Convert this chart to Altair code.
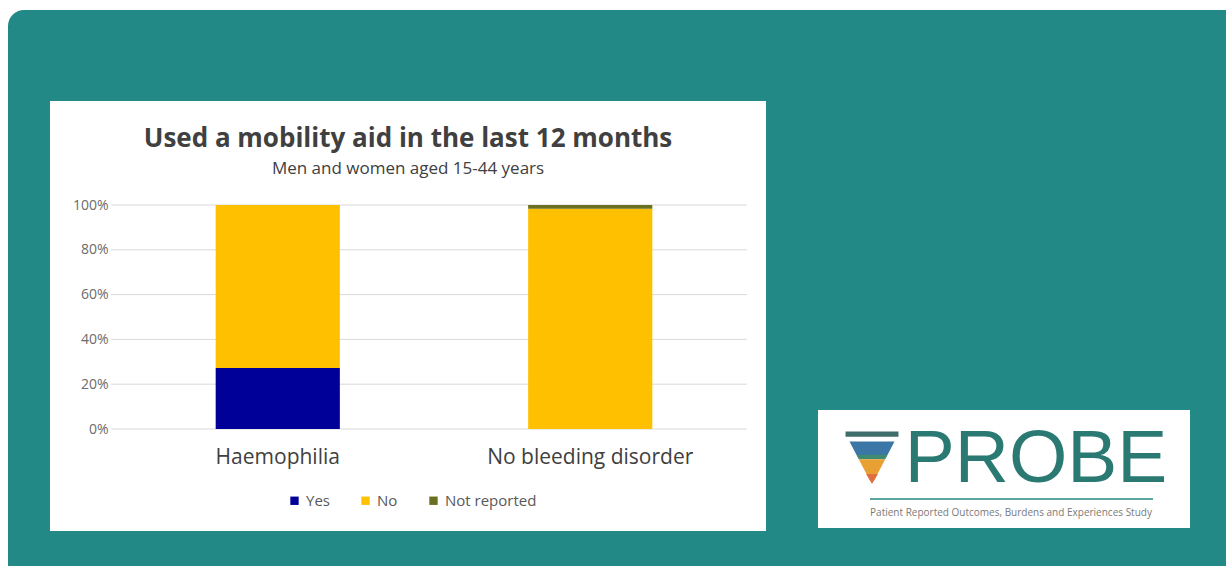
import altair as alt
import pandas as pd

# ---- data ----
groups = ["Haemophilia", "Haemophilia", "Haemophilia",
          "No bleeding disorder", "No bleeding disorder", "No bleeding disorder"]
responses = ["Yes", "No", "Not reported", "Yes", "No", "Not reported"]
percents = [27.2, 72.8, 0.0, 0.0, 98.3, 1.7]
resp_order = ["Yes", "No", "Not reported"]
resp_colors = ["#000099", "#FFC000", "#6B7020"]
y_ticks = [0, 20, 40, 60, 80, 100]

title_text = "Used a mobility aid in the last 12 months"
subtitle_text = "Men and women aged 15-44 years"
logo_text = "PROBE"
logo_sub = "Patient Reported Outcomes, Burdens and Experiences Study"

df = pd.DataFrame({"group": groups, "response": responses, "pct": percents})
df["ord"] = df["response"].map({r: i for i, r in enumerate(resp_order)})
grid_df = pd.DataFrame({"pct": y_ticks})

# plot-area geometry (absolute page pixels)
PX, PY = 111, 205
PW, PH = 646, 224
W, H = 1226, 566

def ax(v):
    return alt.value(v - PX)

def ay(v):
    return alt.value(v - PY)

one = pd.DataFrame({"k": [0]})

def box(x1, y1, x2, y2, color, radius=0):
    return alt.Chart(one).mark_rect(color=color, cornerRadius=radius, clip=False).encode(
        x=ax(x1), x2=ax(x2), y=ay(y1), y2=ay(y2))

def label(txt, x, y, size, color, weight="normal", font="Open Sans", align="center"):
    return alt.Chart(one).mark_text(text=txt, fontSize=size, color=color, fontWeight=weight,
                                    font=font, align=align, baseline="middle", clip=False).encode(
        x=ax(x), y=ay(y))

def shape(path, cx, cy, size, color):
    return alt.Chart(one).mark_point(shape=path, filled=True, color=color, opacity=1,
                                     size=size, strokeWidth=0, clip=False).encode(
        x=ax(cx), y=ay(cy))

teal = "#238987"
panel = box(8, 10, 1240, 580, teal, 16)
chart_box = box(50, 101, 766, 531, "white")
logo_box = box(818, 410, 1190, 528, "white")

title = label(title_text, 408, 139, 26, "#404040", "bold")
subtitle = label(subtitle_text, 408, 169, 17, "#404040")

# logo funnel (unit square paths scaled)
FS = 2800
fun_bar = shape("M-1,-1L1,-1L1,-0.8L-1,-0.8Z", 872, 458, FS, "#3F6E6A")
fun_blue = shape("M-0.85,-0.62L0.85,-0.62L0.55,-0.05L-0.55,-0.05Z", 872, 458, FS, "#3A76A6")
fun_green = shape("M-0.58,-0.12L0.58,-0.12L0.5,0.05L-0.5,0.05Z", 872, 458, FS, "#3E8A72")
fun_orange = shape("M-0.5,0.05L0.5,0.05L0.08,0.85L-0.08,0.85Z", 872, 458, FS, "#E9A033")
fun_tip = shape("M-0.22,0.6L0.22,0.6L0.0,0.98Z", 872, 458, FS, "#E0703F")
probe = label(logo_text, 1036, 459, 75, "#2A7A73", "normal", "Liberation Sans")
logo_line = box(870, 498, 1153, 500, "#5BA8A0")
logo_small = label(logo_sub, 1011, 513, 10, "#7A7A7A")

grid = alt.Chart(grid_df).mark_rule(color="#D9D9D9", strokeWidth=1).encode(
    y=alt.Y("pct:Q"), x=alt.value(0), x2=alt.value(636))

bars = alt.Chart(df).mark_bar(clip=False).encode(
    x=alt.X("group:N", sort=["Haemophilia", "No bleeding disorder"],
            scale=alt.Scale(paddingInner=0.6026, paddingOuter=0.335),
            axis=alt.Axis(title=None, labelAngle=0, labelFontSize=21, labelColor="#404040",
                          labelFont="Open Sans", labelPadding=17, ticks=False, domain=False,
                          grid=False, zindex=2, labelLimit=1000)),
    y=alt.Y("pct:Q", stack="zero", scale=alt.Scale(domain=[0, 100], nice=False),
            axis=alt.Axis(title=None, values=y_ticks, labelExpr="datum.value + '%'",
                          labelFontSize=14, labelColor="#6B6B6B", labelFont="Open Sans",
                          labelPadding=3, ticks=False, domain=False, grid=False, zindex=2)),
    color=alt.Color("response:N", scale=alt.Scale(domain=resp_order, range=resp_colors),
                    legend=alt.Legend(title=None, orient="none", direction="horizontal",
                                      legendX=176, legendY=288, symbolType="square",
                                      symbolSize=70, labelFontSize=15, labelColor="#595959",
                                      labelFont="Open Sans", columnPadding=28,
                                      symbolStrokeWidth=0)),
    order=alt.Order("ord:Q"),
)

chart = alt.layer(
    panel, chart_box, logo_box, title, subtitle,
    fun_bar, fun_blue, fun_green, fun_orange, fun_tip, probe, logo_line, logo_small,
    grid, bars,
).properties(
    width=PW, height=PH,
    padding={"left": PX, "top": PY, "right": W - PX - PW, "bottom": H - PY - PH},
    autosize=alt.AutoSizeParams(type="none"),
    background="white",
).configure_view(stroke=None)

chart.save("out.html", embed_options={"renderer": "svg", "actions": False})
